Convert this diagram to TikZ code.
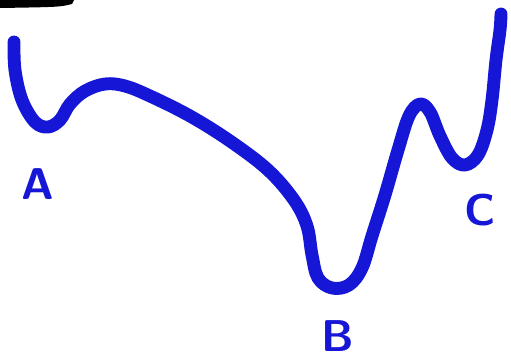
\documentclass[tikz,border=0pt]{standalone}
\usepackage{tikz}

\definecolor{marker}{RGB}{22,22,215}
\tikzset{
  curve/.style={draw=marker,line width=11pt,line cap=round,line join=round},
  letter/.style={text=marker,font=\fontsize{38}{38}\sffamily\bfseries,inner sep=0pt}
}

\begin{document}
\begin{tikzpicture}[x=0.03cm,y=-0.03cm]
\useasboundingbox (0,0) rectangle (511,360);
% smudge at the top edge
\fill[black] (0,0) -- (74,0) -- (72,4) .. controls (60,7) .. (0,8) -- cycle;
% the curve
\draw[curve] plot[smooth,tension=0.6] coordinates {
  (14,42) (15,70) (22,100) (35,122) (48,127) (60,120) (70,104) (85,91)
  (105,84) (125,86) (150,96) (190,116) (230,141) (268,170) (294,200)
  (307,226) (312,255) (318,278) (332,288) (349,285) (362,268) (372,236)
  (385,195) (398,150) (409,116) (420,104) (430,112) (440,136) (452,158)
  (465,165) (478,155) (487,130) (492,100) (496,60) (500,30) (501,14)};
% labels
\node[letter] (lA) at (38,184) {A};
\node[letter] (lB) at (338,336) {B};
\node[letter] (lC) at (480,210) {C};
\end{tikzpicture}
\end{document}
